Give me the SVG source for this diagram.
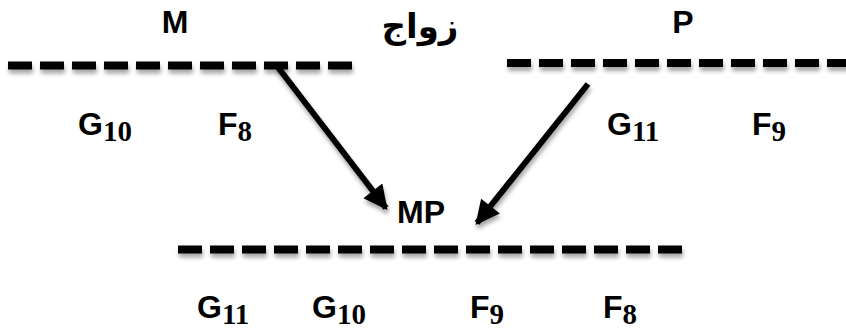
<svg xmlns="http://www.w3.org/2000/svg" width="846" height="336" viewBox="0 0 846 336">
<defs>
<filter id="sh" filterUnits="userSpaceOnUse" x="0" y="0" width="846" height="336">
<feDropShadow dx="1" dy="4" stdDeviation="2" flood-color="#000" flood-opacity="0.35"/>
</filter>
<marker id="ah" viewBox="0 0 10 10" refX="9" refY="5" markerWidth="4.2" markerHeight="4" markerUnits="strokeWidth" orient="auto">
<path d="M0,0 L10,5 L0,10 z" fill="#000"/>
</marker>
</defs>
<style>
.lbl{font-family:"Liberation Sans",Arial,sans-serif;font-weight:bold;font-size:32px;fill:#000}
.sub{font-family:"Liberation Serif","Times New Roman",serif;font-weight:bold;font-size:29px}
.ar{font-family:"DejaVu Sans",sans-serif;font-weight:bold;font-size:34px;fill:#000}
.dash{stroke:#000;stroke-width:8;stroke-dasharray:24 8;fill:none}
.arrow{stroke:#000;stroke-width:6;fill:none;marker-end:url(#ah)}
</style>
<g id="M">
<text class="lbl" x="175" y="33" text-anchor="middle">M</text>
<line class="dash" x1="8" y1="65.5" x2="352" y2="65.5" filter="url(#sh)"/>
<text class="lbl" x="78" y="135">G<tspan class="sub" dy="6">10</tspan></text>
<text class="lbl" x="218" y="135">F<tspan class="sub" dy="6">8</tspan></text>
</g>
<g id="title">
<text class="ar" x="420" y="38" text-anchor="middle" direction="rtl">زواج</text>
</g>
<g id="P">
<text class="lbl" x="683" y="33" text-anchor="middle">P</text>
<line class="dash" x1="507" y1="63" x2="851" y2="63" filter="url(#sh)"/>
<text class="lbl" x="607" y="135">G<tspan class="sub" dy="6">11</tspan></text>
<text class="lbl" x="752" y="135">F<tspan class="sub" dy="6">9</tspan></text>
</g>
<g id="MP">
<text class="lbl" x="421" y="223" text-anchor="middle">MP</text>
<line class="dash" x1="178" y1="249.5" x2="682" y2="249.5" filter="url(#sh)"/>
<text class="lbl" x="197" y="318">G<tspan class="sub" dy="6">11</tspan></text>
<text class="lbl" x="312" y="318">G<tspan class="sub" dy="6">10</tspan></text>
<text class="lbl" x="470" y="318">F<tspan class="sub" dy="6">9</tspan></text>
<text class="lbl" x="603" y="318">F<tspan class="sub" dy="6">8</tspan></text>
</g>
<g id="connectors" filter="url(#sh)">
<line class="arrow" x1="277" y1="66" x2="386" y2="208"/>
<line class="arrow" x1="588" y1="84" x2="477" y2="223"/>
</g>
</svg>
